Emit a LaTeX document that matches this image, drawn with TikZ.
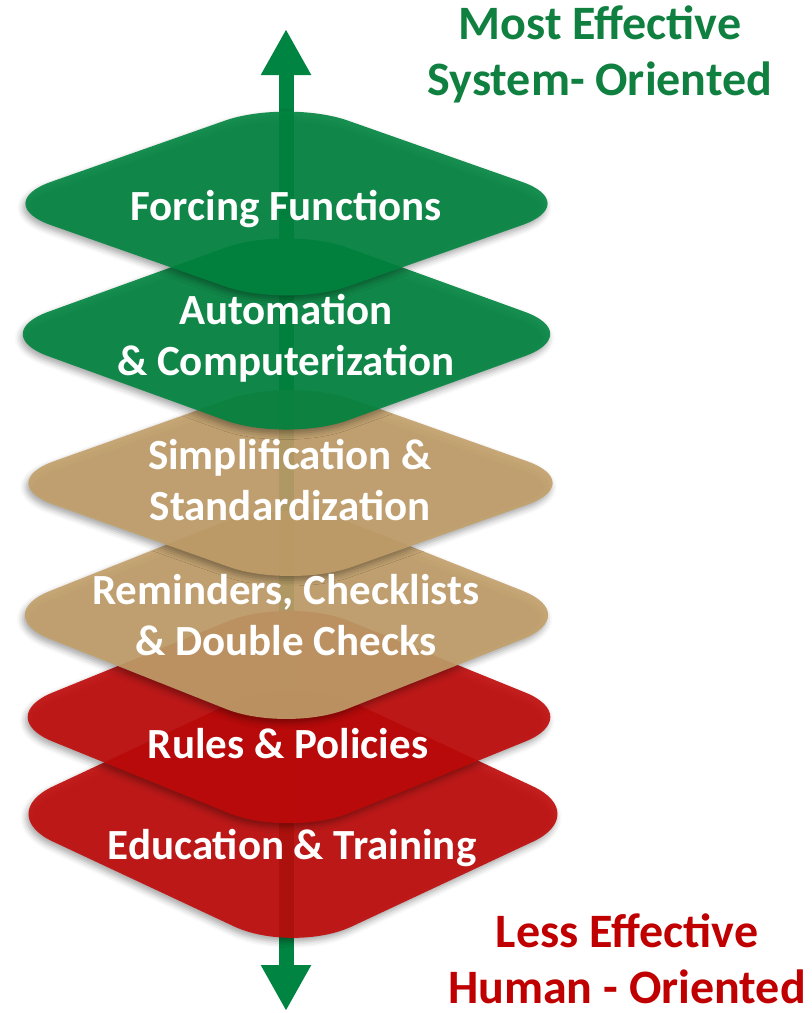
\documentclass[tikz,border=0pt]{standalone}
\usepackage{fontspec}
\setmainfont{Carlito}
\usetikzlibrary{arrows.meta,shadows.blur}
\definecolor{gA}{HTML}{00853F}
\definecolor{tanA}{HTML}{C3A06A}
\definecolor{redA}{HTML}{C00A0A}
\definecolor{arrowG}{HTML}{008441}
\definecolor{hdrG}{HTML}{0F8040}
\definecolor{hdrR}{HTML}{C00000}
\tikzset{
  layer/.style={rounded corners=65pt, fill=#1, fill opacity=0.9,
    blur shadow={shadow xshift=-2pt, shadow yshift=-4pt, shadow blur radius=6pt, shadow opacity=35}},
  lbl/.style={text=white, font=\fontsize{43}{51}\selectfont\bfseries, align=center},
  hdr/.style={font=\fontsize{48}{56}\selectfont\bfseries, align=center, inner sep=0pt},
  bigarrow/.style={draw=arrowG, line width=15pt,
    {Triangle[width=47pt,length=46pt]}-{Triangle[width=47pt,length=46pt]}}
}
\begin{document}
\begin{tikzpicture}[x=1pt,y=-1pt]
\useasboundingbox (0,0) rectangle (812,1013);
% central arrow
\coordinate (atop) at (286,29);
\coordinate (abot) at (286,1011);
\draw[bigarrow] (abot) -- (atop);
% layers, bottom first
\path[layer=redA] (293-299,814) -- (293,814-140) -- (293+299,814) -- (293,814+140) -- cycle;
\path[layer=redA] (289-296.6,717) -- (289,717-120.5) -- (289+296.6,717) -- (289,717+120.5) -- cycle;
\path[layer=tanA] (286.5-297,615) -- (286.5,615-118) -- (286.5+297,615) -- (286.5,615+118) -- cycle;
\path[layer=tanA] (290.5-298,483) -- (290.5,483-105.7) -- (290.5+298,483) -- (290.5,483+105.7) -- cycle;
\path[layer=gA] (286.5-299.5,334) -- (286.5,334-108.5) -- (286.5+299.5,334) -- (286.5,334+108.5) -- cycle;
\path[layer=gA] (286.5-297,203.5) -- (286.5,203.5-104.5) -- (286.5+297,203.5) -- (286.5,203.5+104.5) -- cycle;
% labels (base anchor = baseline of the last line)
\node[lbl, anchor=base] (ff) at (286,220) {Forcing Functions};
\node[lbl, anchor=base] (ac) at (286,375) {Automation\\\& Computerization};
\node[lbl, anchor=base] (ss) at (290,520) {Simplification \&\\Standardization};
\node[lbl, anchor=base] (rc) at (286,655) {Reminders, Checklists\\\& Double Checks};
\node[lbl, anchor=base] (rp) at (288,758) {Rules \& Policies};
\node[lbl, anchor=base] (et) at (292,859) {Education \& Training};
\node[hdr, text=hdrG, anchor=base] (most) at (600,95) {Most Effective\\System- Oriented};
\node[hdr, text=hdrR, anchor=base, text depth=0pt] (less) at (627,1003) {Less Effective\\Human - Oriented};
\end{tikzpicture}
\end{document}
